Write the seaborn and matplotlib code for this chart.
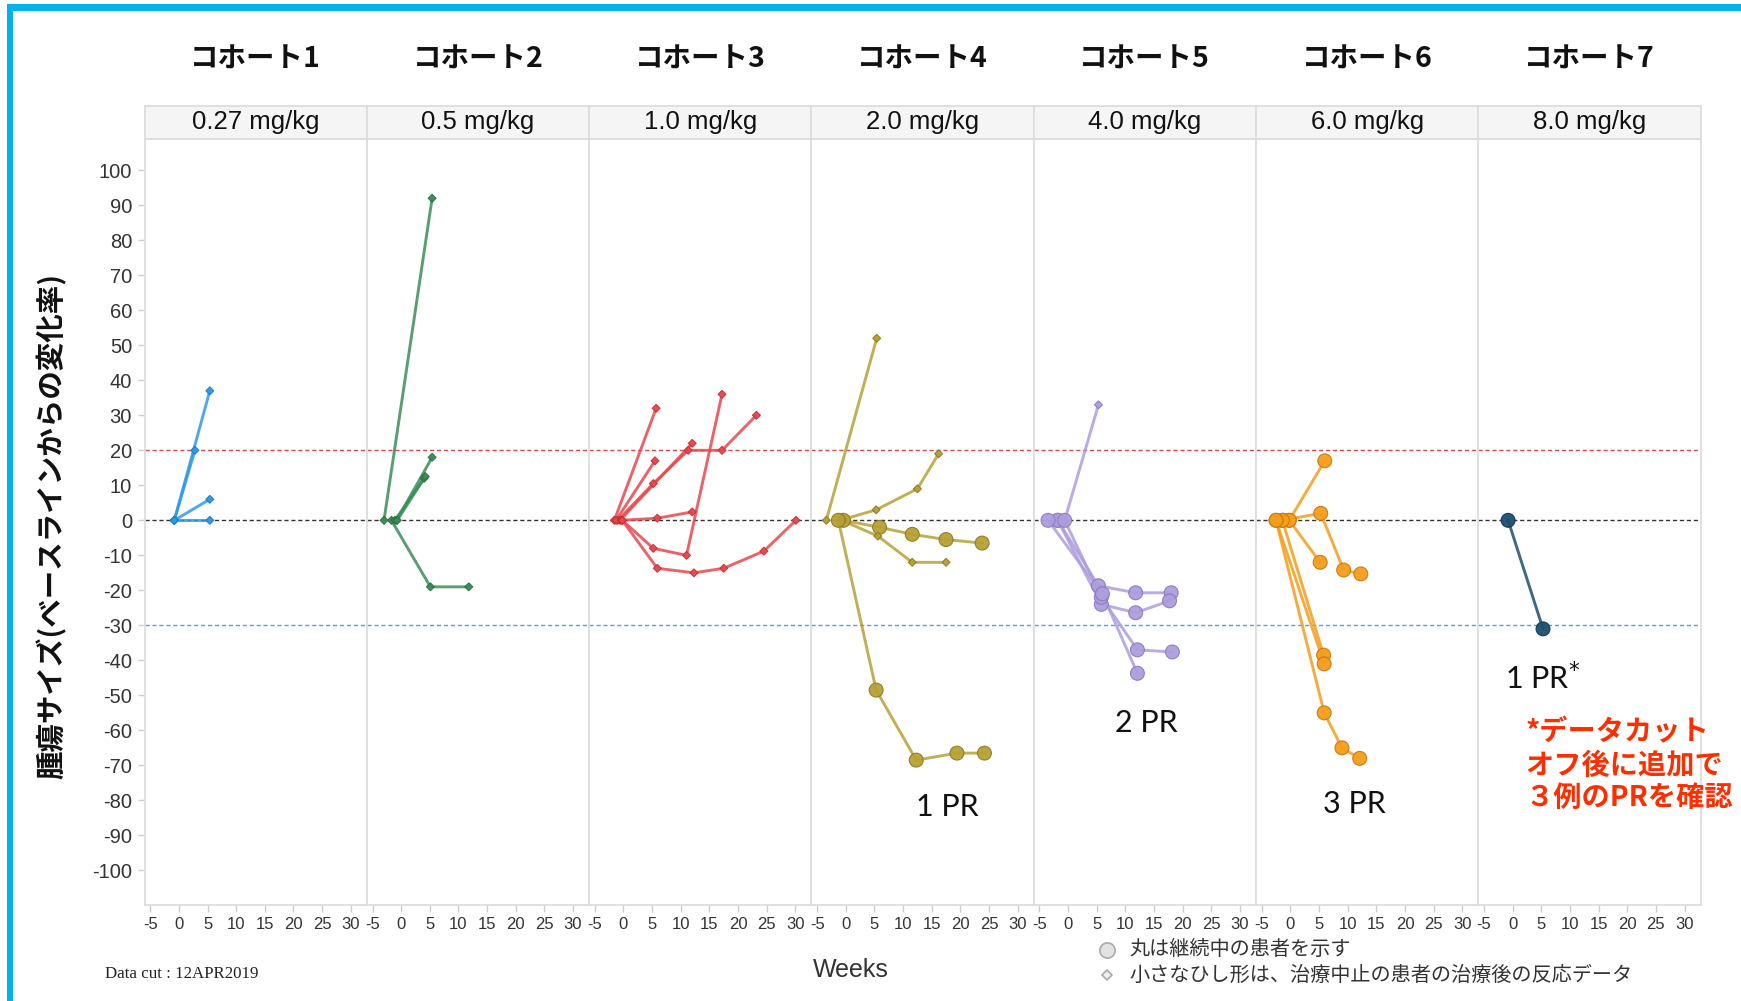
import pandas as pd
import matplotlib
matplotlib.use("Agg")
import matplotlib.pyplot as plt
from matplotlib.patches import Rectangle
from matplotlib.lines import Line2D
import seaborn as sns

# コホート情報
cohorts = ["コホート1", "コホート2", "コホート3", "コホート4", "コホート5", "コホート6", "コホート7"]
doses = ["0.27 mg/kg", "0.5 mg/kg", "1.0 mg/kg", "2.0 mg/kg", "4.0 mg/kg", "6.0 mg/kg", "8.0 mg/kg"]
colors = ["#2E9AE8", "#3B8E57", "#E8484D", "#B7A136", "#AE9DDD", "#F59D1C", "#1C4F70"]
edge_colors = ["#1F7CC0", "#2C6E43", "#C43338", "#8E7C22", "#8C7BBE", "#C97A0C", "#123A55"]

# 患者ごとのデータ (週, ベースラインからの変化率, 継続中フラグ)
c1_weeks = [[-0.8, 2.8], [-0.8, 5.4], [-0.8, 5.4], [-0.8, 5.4]]
c1_change = [[0, 20], [0, 37], [0, 6], [0, 0]]
c1_ongoing = [False, False, False, False]

c2_weeks = [[-3.0, 5.4], [-1.7, 5.1, 11.8], [-0.8, 5.4], [-1.1, 4.0], [-0.7, 4.2]]
c2_change = [[0, 92], [0, -19, -19], [0, 18], [0, 12], [0, 12.5]]
c2_ongoing = [False, False, False, False, False]

c3_weeks = [[-1.6, 5.7], [-0.2, 5.2, 11.0, 17.2], [-1.0, 5.2, 11.3, 17.2, 23.2],
            [-0.6, 12.0], [-1.3, 5.5], [-0.4, 5.9, 12.0],
            [-0.2, 5.9, 12.3, 17.5, 24.5, 30.1]]
c3_change = [[0, 32], [0, -8, -10, 36], [0, 10.5, 20, 20, 30], [0, 22], [0, 17],
             [0, 0.6, 2.4], [0, -13.7, -15, -13.7, -8.8, 0]]
c3_ongoing = [False, False, False, False, False, False, False]

c4_weeks = [[-3.4, 5.4], [-1.0, 5.3, 12.5, 16.2], [-0.4, 5.9, 11.6, 17.5, 23.8],
            [-0.7, 5.6, 11.6, 17.5], [-1.3, 5.3, 12.3, 19.4, 24.2]]
c4_change = [[0, 52], [0, 3, 9, 19], [0, -2, -4, -5.5, -6.5],
             [0, -4.5, -12, -12], [0, -48.5, -68.5, -66.5, -66.5]]
c4_ongoing = [False, False, True, False, True]

c5_weeks = [[-0.6, 5.3], [-1.8, 5.3, 11.8, 18.0], [-1.8, 5.8, 11.8, 17.7],
            [-0.6, 5.8, 12.1, 18.2], [-3.5, 6.0, 12.1]]
c5_change = [[0, 33], [0, -18.7, -20.7, -20.7], [0, -24, -26.4, -23],
             [0, -22, -37, -37.6], [0, -21, -43.7]]
c5_ongoing = [False, True, True, True, True]

c6_weeks = [[-0.2, 6.0], [-1.4, 5.3, 9.3, 12.3], [-0.2, 5.2], [-1.4, 5.8],
            [-2.5, 5.9], [-2.5, 5.9, 9.0, 12.1]]
c6_change = [[0, 17], [0, 2, -14.2, -15.3], [0, -12], [0, -38.5], [0, -41],
             [0, -55, -65, -68]]
c6_ongoing = [True, True, True, True, True, True]

c7_weeks = [[-0.8, 5.3]]
c7_change = [[0, -31]]
c7_ongoing = [True]

pr_labels = ["", "", "", "1 PR", "2 PR", "3 PR", "1 PR$^{*}$"]
pr_x = [0, 0, 0, 17.7, 13.6, 11.2, 5.2]
pr_y = [0, 0, 0, -82, -58, -81, -45]

all_weeks = [c1_weeks, c2_weeks, c3_weeks, c4_weeks, c5_weeks, c6_weeks, c7_weeks]
all_change = [c1_change, c2_change, c3_change, c4_change, c5_change, c6_change, c7_change]
all_ongoing = [c1_ongoing, c2_ongoing, c3_ongoing, c4_ongoing, c5_ongoing, c6_ongoing, c7_ongoing]

# ロング形式のデータフレームへ
rows = []
pid = 0
for ci in range(len(cohorts)):
    for wk, ch, on in zip(all_weeks[ci], all_change[ci], all_ongoing[ci]):
        for w, c in zip(wk, ch):
            rows.append({"cohort": ci, "pid": pid, "week": w, "change": c,
                         "status": "継続" if on else "中止"})
        pid += 1
df = pd.DataFrame(rows)

sns.set_theme(style="white")
plt.rcParams["font.family"] = ["Liberation Sans", "Noto Sans CJK JP", "DejaVu Sans"]
plt.rcParams["axes.unicode_minus"] = False
jp = ["Noto Sans CJK JP", "DejaVu Sans"]

fig, axes = plt.subplots(1, 7, figsize=(17.41, 10.01), dpi=100, sharey=True)
fig.subplots_adjust(left=0.083, right=0.9768, bottom=0.0962, top=0.8614, wspace=0)

for i, ax in enumerate(axes):
    ax.axhline(20, color="#E4474A", ls=(0, (3, 2)), lw=1.0, zorder=1)
    ax.axhline(0, color="#333333", ls=(0, (3, 2)), lw=1.0, zorder=1)
    ax.axhline(-30, color="#45A6E2", ls=(0, (3, 2)), lw=1.0, zorder=1)

    sub = df[df["cohort"] == i]
    sns.lineplot(data=sub, x="week", y="change", units="pid", estimator=None, sort=False,
                 color=colors[i], lw=2.1, alpha=0.85, ax=ax, legend=False, zorder=2)
    sns.scatterplot(data=sub, x="week", y="change", style="status", size="status",
                    markers={"継続": "o", "中止": "D"}, sizes={"継続": 100, "中止": 16},
                    color=colors[i], edgecolor=edge_colors[i], linewidth=0.8, alpha=0.95,
                    ax=ax, legend=False, zorder=3)

    ax.set_xlim(-6, 32.8)
    ax.set_ylim(-109.8, 109)
    ax.set_xticks(range(-5, 31, 5))
    ax.set_yticks(range(-100, 101, 10))
    ax.set_xlabel("")
    ax.set_ylabel("")
    ax.tick_params(axis="x", labelsize=12, colors="#CCCCCC", labelcolor="#333333",
                   length=5, width=1, pad=4, bottom=True)
    if i == 0:
        ax.tick_params(axis="y", labelsize=14.5, colors="#CCCCCC", labelcolor="#333333",
                       length=5, width=1, pad=4, left=True)
    else:
        ax.tick_params(axis="y", left=False, labelleft=False)
    for sp in ax.spines.values():
        sp.set_color("#DDDDDD")
        sp.set_linewidth(1.3)

    # ストリップ (用量)
    ax.add_patch(Rectangle((0, 1.0), 1, 0.0431, transform=ax.transAxes, clip_on=False,
                           facecolor="#F5F5F5", edgecolor="#DDDDDD", lw=1.3))
    ax.text(0.5, 1.0215, doses[i], transform=ax.transAxes, ha="center", va="center",
            fontsize=18.5, color="#111111")
    ax.text(0.5, 1.103, cohorts[i], transform=ax.transAxes, ha="center", va="center",
            fontsize=20.5, fontweight="bold", family=jp, color="#111111")

    if pr_labels[i]:
        ax.text(pr_x[i], pr_y[i], pr_labels[i], ha="center", va="center",
                fontsize=22, family="Lato", color="#111111")

# 注記 (赤字)
note_lines = ["*データカット", "オフ後に追加で", "３例のPRを確認"]
note_y = [0.2687, 0.2348, 0.2028]
for t, yy in zip(note_lines, note_y):
    fig.text(0.876, yy, t, ha="left", va="center", fontsize=20.3, fontweight="bold",
             family=jp, color="#FF2E00")

# 軸ラベル
fig.text(0.0297, 0.4745, "腫瘍サイズ(ベースラインからの変化率)", rotation=90, ha="center",
         va="center", fontsize=20.5, fontweight="bold", family=jp, color="#111111")
fig.text(0.4885, 0.0305, "Weeks", ha="center", va="center", fontsize=18, color="#333333")
fig.text(0.0603, 0.0267, "Data cut : 12APR2019", ha="left", va="center", fontsize=12.2,
         family="Liberation Serif", color="#222222")

# 凡例
fig.add_artist(Line2D([0.6358], [0.0514], transform=fig.transFigure, marker="o", ms=11,
                      mfc="#E2E2E2", mec="#AAAAAA", mew=1.2, ls="none"))
fig.add_artist(Line2D([0.6358], [0.026], transform=fig.transFigure, marker="D", ms=5,
                      mfc="#EEEEEE", mec="#AAAAAA", mew=1.2, ls="none"))
fig.text(0.6485, 0.0514, "丸は継続中の患者を示す", ha="left", va="center", fontsize=14.5,
         family=jp, color="#333333")
fig.text(0.6485, 0.026, "小さなひし形は、治療中止の患者の治療後の反応データ", ha="left",
         va="center", fontsize=14.5, family=jp, color="#333333")

# 外枠 (水色)
W, H = 1741, 1001
fig.add_artist(Rectangle((7 / W, 0), 5.5 / W, 1 - 3.5 / H, transform=fig.transFigure,
                         facecolor="#00B2EE", edgecolor="none"))
fig.add_artist(Rectangle((7 / W, 1 - 10.5 / H), 1 - 7 / W, 7 / H, transform=fig.transFigure,
                         facecolor="#00B2EE", edgecolor="none"))

fig.savefig("out.png", dpi=100, facecolor="white")
